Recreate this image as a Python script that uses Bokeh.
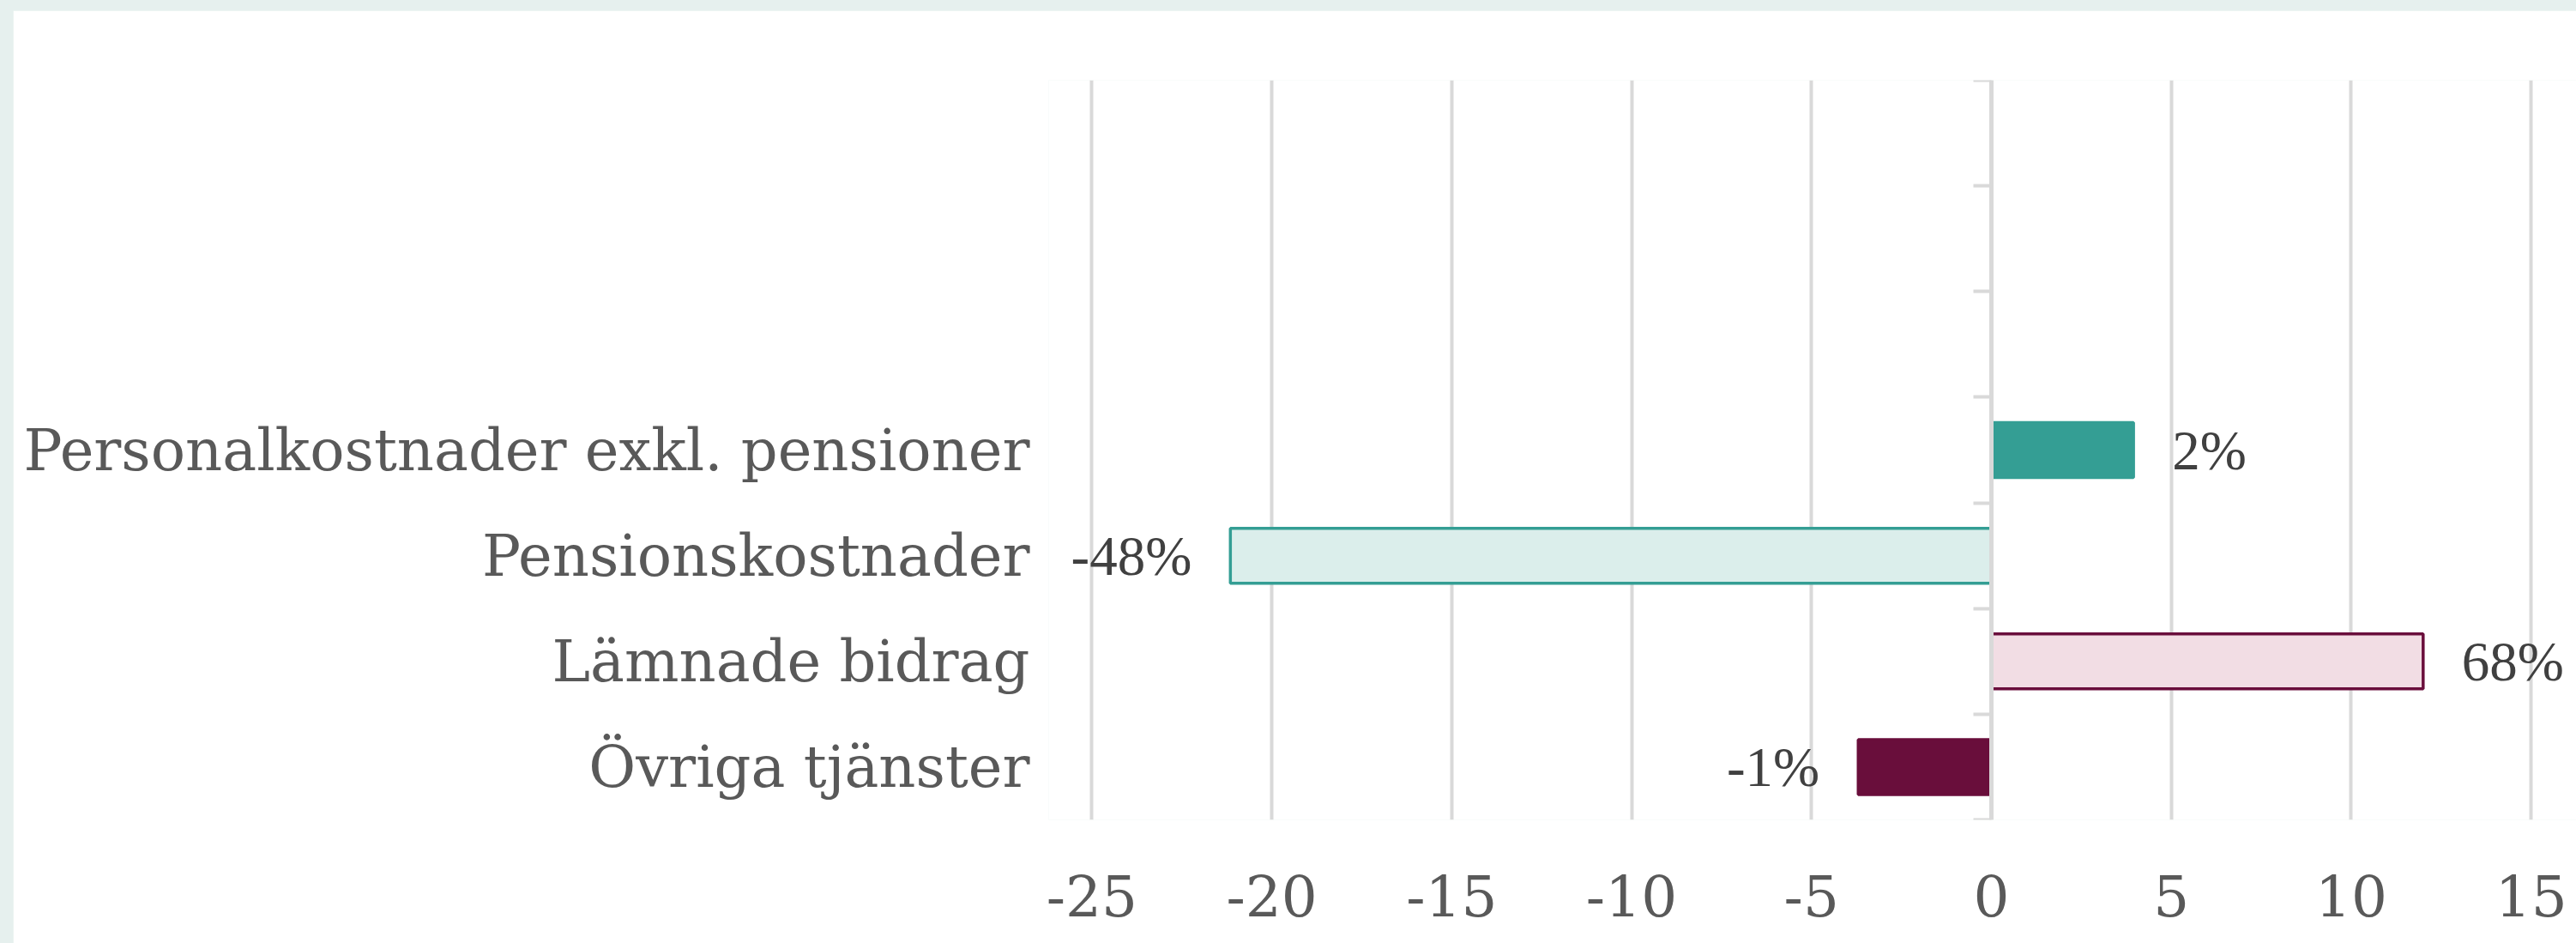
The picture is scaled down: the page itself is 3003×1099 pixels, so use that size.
from bokeh.plotting import figure
from bokeh.models import (ColumnDataSource, LinearAxis, FixedTicker, LabelSet, Range1d, Spacer)
from bokeh.layouts import column, row
from bokeh.embed import file_html
from bokeh.resources import INLINE

# ---- data ----
categories = ["Personalkostnader exkl. pensioner", "Pensionskostnader",
              "Lämnade bidrag", "Övriga tjänster"]
values = [3.95, -21.15, 12.0, -3.7]
value_labels = ["2%", "-48%", "68%", "-1%"]
fill_colors = ["#349e94", "#dbeeeb", "#f2dde4", "#690e3b"]
line_colors = ["#349e94", "#349e94", "#6a0e3c", "#690e3b"]
empty_slots = 3
x_ticks = [-25, -20, -15, -10, -5, 0, 5, 10, 15]

n_slots = len(categories) + empty_slots
n = len(categories)
ypos = [n - 0.5 - i for i in range(n)]
aligns = ["left" if v >= 0 else "right" for v in values]
offsets = [45 if v >= 0 else -45 for v in values]

src = ColumnDataSource(dict(y=ypos, v=values, lab=value_labels, fill=fill_colors,
                            line=line_colors, align=aligns, off=offsets))

TOP, LEFT = 12, 15
W, H = 3003 - LEFT, 1099 - TOP
p = figure(width=W, height=H, output_backend="svg", toolbar_location=None,
           x_range=Range1d(-26.2, 16.26), y_range=Range1d(0, n_slots),
           x_axis_location="below", y_axis_location=None,
           min_border_left=1207, min_border_right=0, min_border_top=81,
           min_border_bottom=144)
p.outline_line_color = None
p.background_fill_color = "white"
p.border_fill_color = "white"

# x axis
xa = p.xaxis[0]
xa.ticker = FixedTicker(ticks=x_ticks)
xa.major_label_overrides = {t: str(t) for t in x_ticks}
xa.axis_line_color = None
xa.major_tick_line_color = None
xa.minor_tick_line_color = None
xa.major_label_text_font = "DejaVu Serif"
xa.major_label_text_font_size = "66px"
xa.major_label_text_color = "#595959"
xa.major_label_standoff = 58

p.xgrid.ticker = FixedTicker(ticks=x_ticks)
p.xgrid.grid_line_color = "#d9d9d9"
p.xgrid.grid_line_width = 4
p.ygrid.grid_line_color = None

# category label axis (left)
ya = LinearAxis(ticker=FixedTicker(ticks=ypos),
                major_label_overrides={y: c for y, c in zip(ypos, categories)})
ya.axis_line_color = None
ya.major_tick_line_color = None
ya.minor_tick_line_color = None
ya.major_label_text_font = "DejaVu Serif"
ya.major_label_text_font_size = "67px"
ya.major_label_text_color = "#595959"
ya.major_label_standoff = 16
p.add_layout(ya, "left")

# bars
p.hbar(y="y", left=0, right="v", height=0.52, fill_color="fill",
       line_color="line", line_width=3.5, source=src)

# vertical axis at x = 0 with boundary ticks
za = LinearAxis(ticker=FixedTicker(ticks=list(range(n_slots + 1))),
                major_label_overrides={i: "" for i in range(n_slots + 1)})
za.fixed_location = 0
za.axis_line_color = "#d9d9d9"
za.axis_line_width = 5
za.major_tick_line_color = "#d9d9d9"
za.major_tick_line_width = 4
za.major_tick_in = 21
za.major_tick_out = 0
za.minor_tick_line_color = None
za.major_label_text_font_size = "0px"
za.major_label_standoff = 0
p.add_layout(za, "right")

labels = LabelSet(x="v", y="y", text="lab", source=src, x_offset="off",
                  text_align="align", text_baseline="middle",
                  text_font="DejaVu Serif", text_font_size="65px",
                  text_color="#404040")
p.add_layout(labels)

layout = column(Spacer(height=TOP, width=W + LEFT),
                row(Spacer(width=LEFT, height=H), p))
layout.styles = {"background-color": "#e6f0ee"}

open("out.html", "w").write(file_html(layout, INLINE))
